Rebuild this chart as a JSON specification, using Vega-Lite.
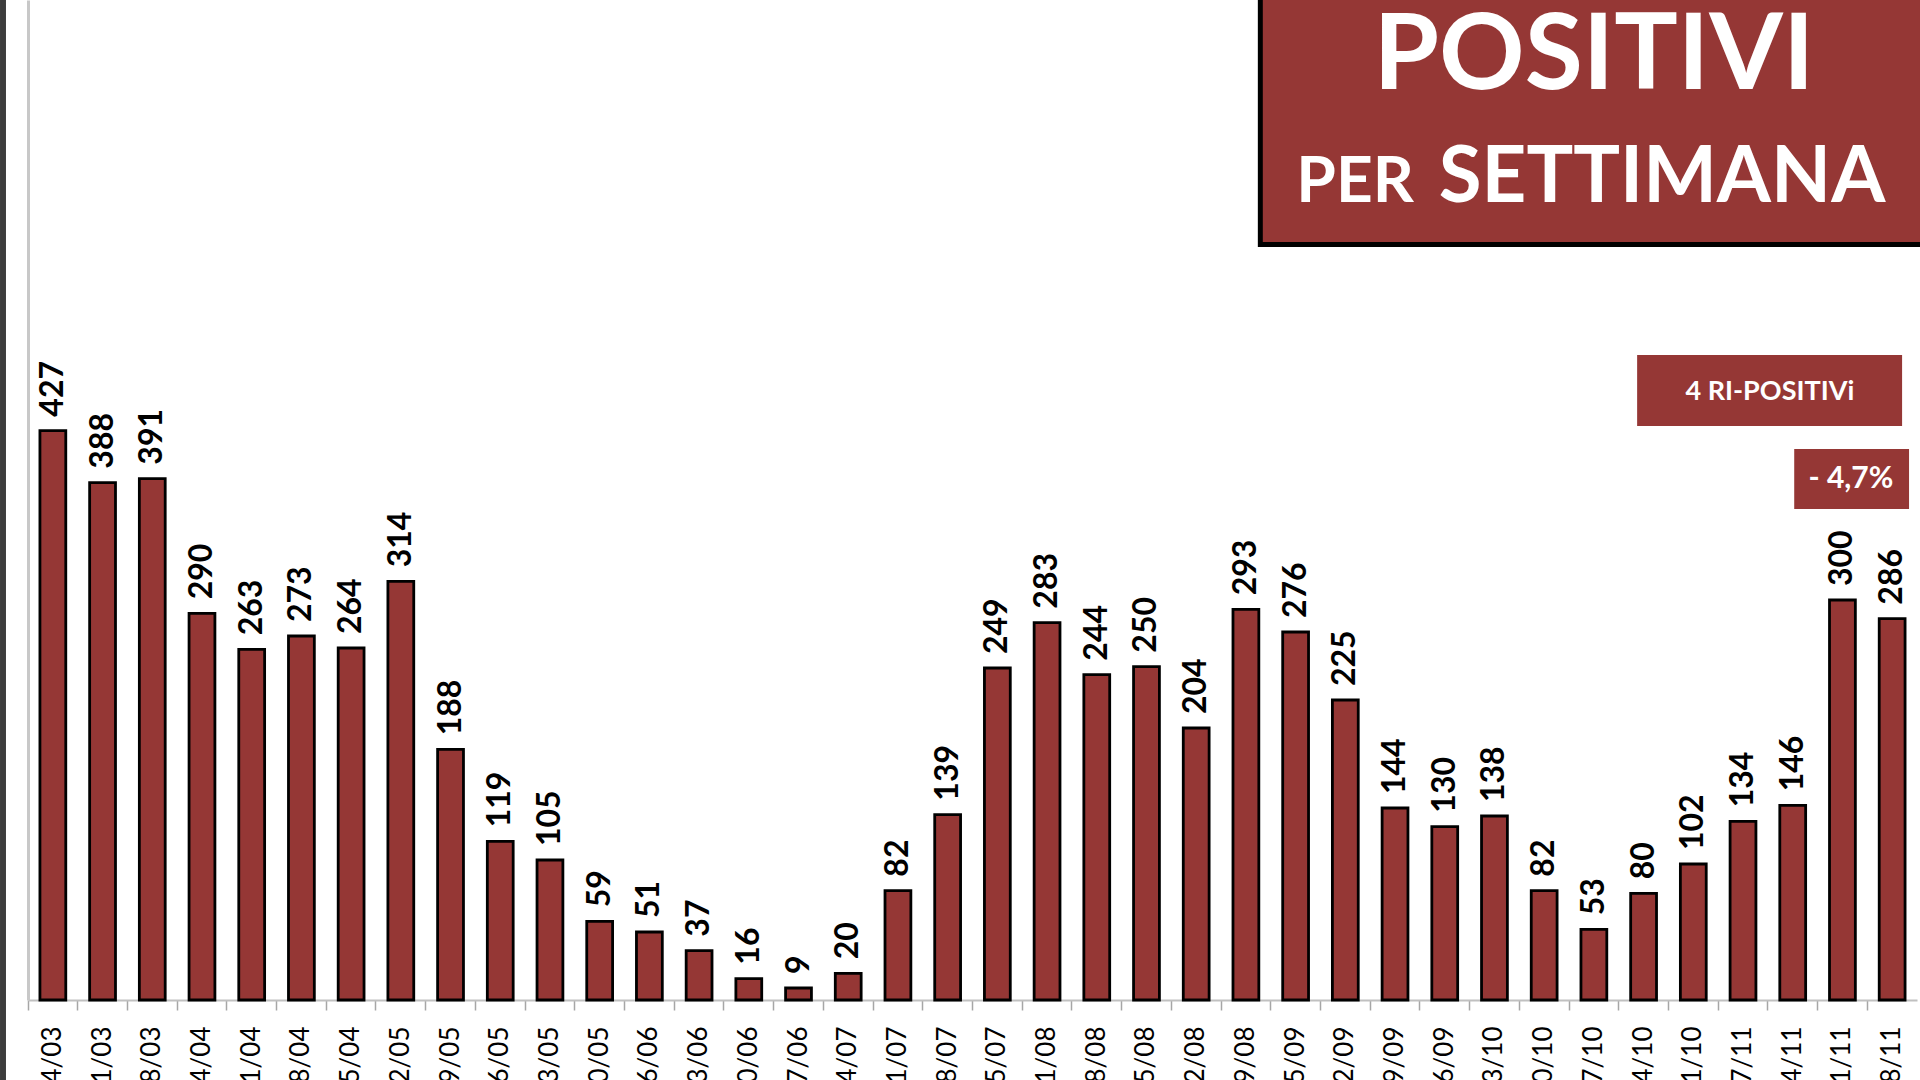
{
  "$schema": "https://vega.github.io/schema/vega-lite/v6.json",
  "width": 1889,
  "height": 1000,
  "autosize": {"type": "none"},
  "padding": {"left": 28, "top": 0, "right": 3, "bottom": 80},
  "background": "white",
  "config": {
    "view": {"stroke": null},
    "axisY": {"domainColor": "#c8c8c8", "domainWidth": 3, "labels": false, "ticks": false, "grid": false, "title": null}
  },
  "data": {
    "values": [
      {"week": "14/03", "value": 427},
      {"week": "21/03", "value": 388},
      {"week": "28/03", "value": 391},
      {"week": "04/04", "value": 290},
      {"week": "11/04", "value": 263},
      {"week": "18/04", "value": 273},
      {"week": "25/04", "value": 264},
      {"week": "02/05", "value": 314},
      {"week": "09/05", "value": 188},
      {"week": "16/05", "value": 119},
      {"week": "23/05", "value": 105},
      {"week": "30/05", "value": 59},
      {"week": "06/06", "value": 51},
      {"week": "13/06", "value": 37},
      {"week": "20/06", "value": 16},
      {"week": "27/06", "value": 9},
      {"week": "04/07", "value": 20},
      {"week": "11/07", "value": 82},
      {"week": "18/07", "value": 139},
      {"week": "25/07", "value": 249},
      {"week": "01/08", "value": 283},
      {"week": "08/08", "value": 244},
      {"week": "15/08", "value": 250},
      {"week": "22/08", "value": 204},
      {"week": "29/08", "value": 293},
      {"week": "05/09", "value": 276},
      {"week": "12/09", "value": 225},
      {"week": "19/09", "value": 144},
      {"week": "26/09", "value": 130},
      {"week": "03/10", "value": 138},
      {"week": "10/10", "value": 82},
      {"week": "17/10", "value": 53},
      {"week": "24/10", "value": 80},
      {"week": "31/10", "value": 102},
      {"week": "07/11", "value": 134},
      {"week": "14/11", "value": 146},
      {"week": "21/11", "value": 300},
      {"week": "28/11", "value": 286}
    ]
  },
  "layer": [
    {
      "encoding": {
        "x": {
          "field": "week", "type": "ordinal", "sort": null,
          "scale": {"paddingInner": 0, "paddingOuter": 0},
          "axis": {
            "title": null, "bandPosition": 0, "labelAngle": 270,
            "labelFont": "Lato", "labelFontSize": 26, "labelColor": "#000000",
            "labelPadding": 16, "labelOverlap": false,
            "domainColor": "#c0c0c0", "domainWidth": 2,
            "tickColor": "#a6a6a6", "tickWidth": 1.5, "tickSize": 10, "grid": false
          }
        },
        "y": {
          "field": "value", "type": "quantitative", "title": null,
          "scale": {"domain": [0, 750], "nice": false, "zero": true}
        }
      },
      "layer": [
        {
          "mark": {"type": "bar", "fill": "#953735", "stroke": "#000000", "strokeWidth": 2.8, "width": {"band": 0.52}}
        },
        {
          "mark": {"type": "text", "angle": 270, "align": "left", "baseline": "middle", "dx": 14, "font": "Lato", "fontWeight": "bold", "fontSize": 32, "fill": "#000000"},
          "encoding": {"text": {"field": "value", "type": "quantitative"}}
        }
      ]
    },
    {
      "layer": [
        {
          "data": {"values": [{"part": "strip"}]},
          "mark": {"type": "rect", "fill": "#3c3c3c"},
          "encoding": {
            "x": {"datum": -0.563, "type": "quantitative", "scale": {"domain": [0, 38], "nice": false, "zero": false}, "axis": null},
            "x2": {"datum": -0.443},
            "y": {"datum": 760, "type": "quantitative", "title": null, "scale": {"domain": [0, 750], "nice": false}},
            "y2": {"datum": -70}
          }
        },
        {
          "data": {"values": [{"part": "shadow"}]},
          "mark": {"type": "rect", "fill": "#000000"},
          "encoding": {
            "x": {"datum": 24.74, "type": "quantitative", "scale": {"domain": [0, 38], "nice": false, "zero": false}, "axis": null},
            "x2": {"datum": 39},
            "y": {"datum": 760, "type": "quantitative", "title": null},
            "y2": {"datum": 564.75}
          }
        },
        {
          "data": {"values": [{"part": "titlebox"}]},
          "mark": {"type": "rect", "fill": "#953735"},
          "encoding": {
            "x": {"datum": 24.84, "type": "quantitative", "axis": null},
            "x2": {"datum": 39},
            "y": {"datum": 760, "type": "quantitative", "title": null},
            "y2": {"datum": 568.5}
          }
        },
        {
          "data": {"values": [{"label": "POSITIVI"}]},
          "mark": {"type": "text", "align": "center", "baseline": "alphabetic", "font": "Lato", "fontWeight": "bold", "fontSize": 106, "fill": "#ffffff"},
          "encoding": {
            "x": {"datum": 31.5, "type": "quantitative", "axis": null},
            "y": {"datum": 683.25, "type": "quantitative", "title": null},
            "text": {"field": "label", "type": "nominal"}
          }
        },
        {
          "data": {"values": [{"label": "PER"}]},
          "mark": {"type": "text", "align": "right", "baseline": "alphabetic", "font": "Lato", "fontWeight": "bold", "fontSize": 64, "fill": "#ffffff"},
          "encoding": {
            "x": {"datum": 27.88, "type": "quantitative", "axis": null},
            "y": {"datum": 598.5, "type": "quantitative", "title": null},
            "text": {"field": "label", "type": "nominal"}
          }
        },
        {
          "data": {"values": [{"label": "SETTIMANA"}]},
          "mark": {"type": "text", "align": "left", "baseline": "alphabetic", "font": "Lato", "fontWeight": "bold", "fontSize": 78, "fill": "#ffffff"},
          "encoding": {
            "x": {"datum": 28.38, "type": "quantitative", "axis": null},
            "y": {"datum": 598.5, "type": "quantitative", "title": null},
            "text": {"field": "label", "type": "nominal"}
          }
        },
        {
          "data": {"values": [{"part": "box1"}]},
          "mark": {"type": "rect", "fill": "#953735"},
          "encoding": {
            "x": {"datum": 32.37, "type": "quantitative", "axis": null},
            "x2": {"datum": 37.7},
            "y": {"datum": 483.75, "type": "quantitative", "title": null},
            "y2": {"datum": 430.5}
          }
        },
        {
          "data": {"values": [{"label": "4 RI-POSITIVi"}]},
          "mark": {"type": "text", "align": "center", "baseline": "middle", "font": "Lato", "fontWeight": "bold", "fontSize": 27, "fill": "#ffffff"},
          "encoding": {
            "x": {"datum": 35.04, "type": "quantitative", "axis": null},
            "y": {"datum": 456, "type": "quantitative", "title": null},
            "text": {"field": "label", "type": "nominal"}
          }
        },
        {
          "data": {"values": [{"part": "box2"}]},
          "mark": {"type": "rect", "fill": "#953735"},
          "encoding": {
            "x": {"datum": 35.53, "type": "quantitative", "axis": null},
            "x2": {"datum": 37.84},
            "y": {"datum": 413.25, "type": "quantitative", "title": null},
            "y2": {"datum": 368.25}
          }
        },
        {
          "data": {"values": [{"label": "- 4,7%"}]},
          "mark": {"type": "text", "align": "center", "baseline": "middle", "font": "Lato", "fontWeight": "bold", "fontSize": 30, "fill": "#ffffff"},
          "encoding": {
            "x": {"datum": 36.67, "type": "quantitative", "axis": null},
            "y": {"datum": 390.75, "type": "quantitative", "title": null},
            "text": {"field": "label", "type": "nominal"}
          }
        }
      ]
    }
  ],
  "resolve": {"scale": {"x": "independent"}}
}
